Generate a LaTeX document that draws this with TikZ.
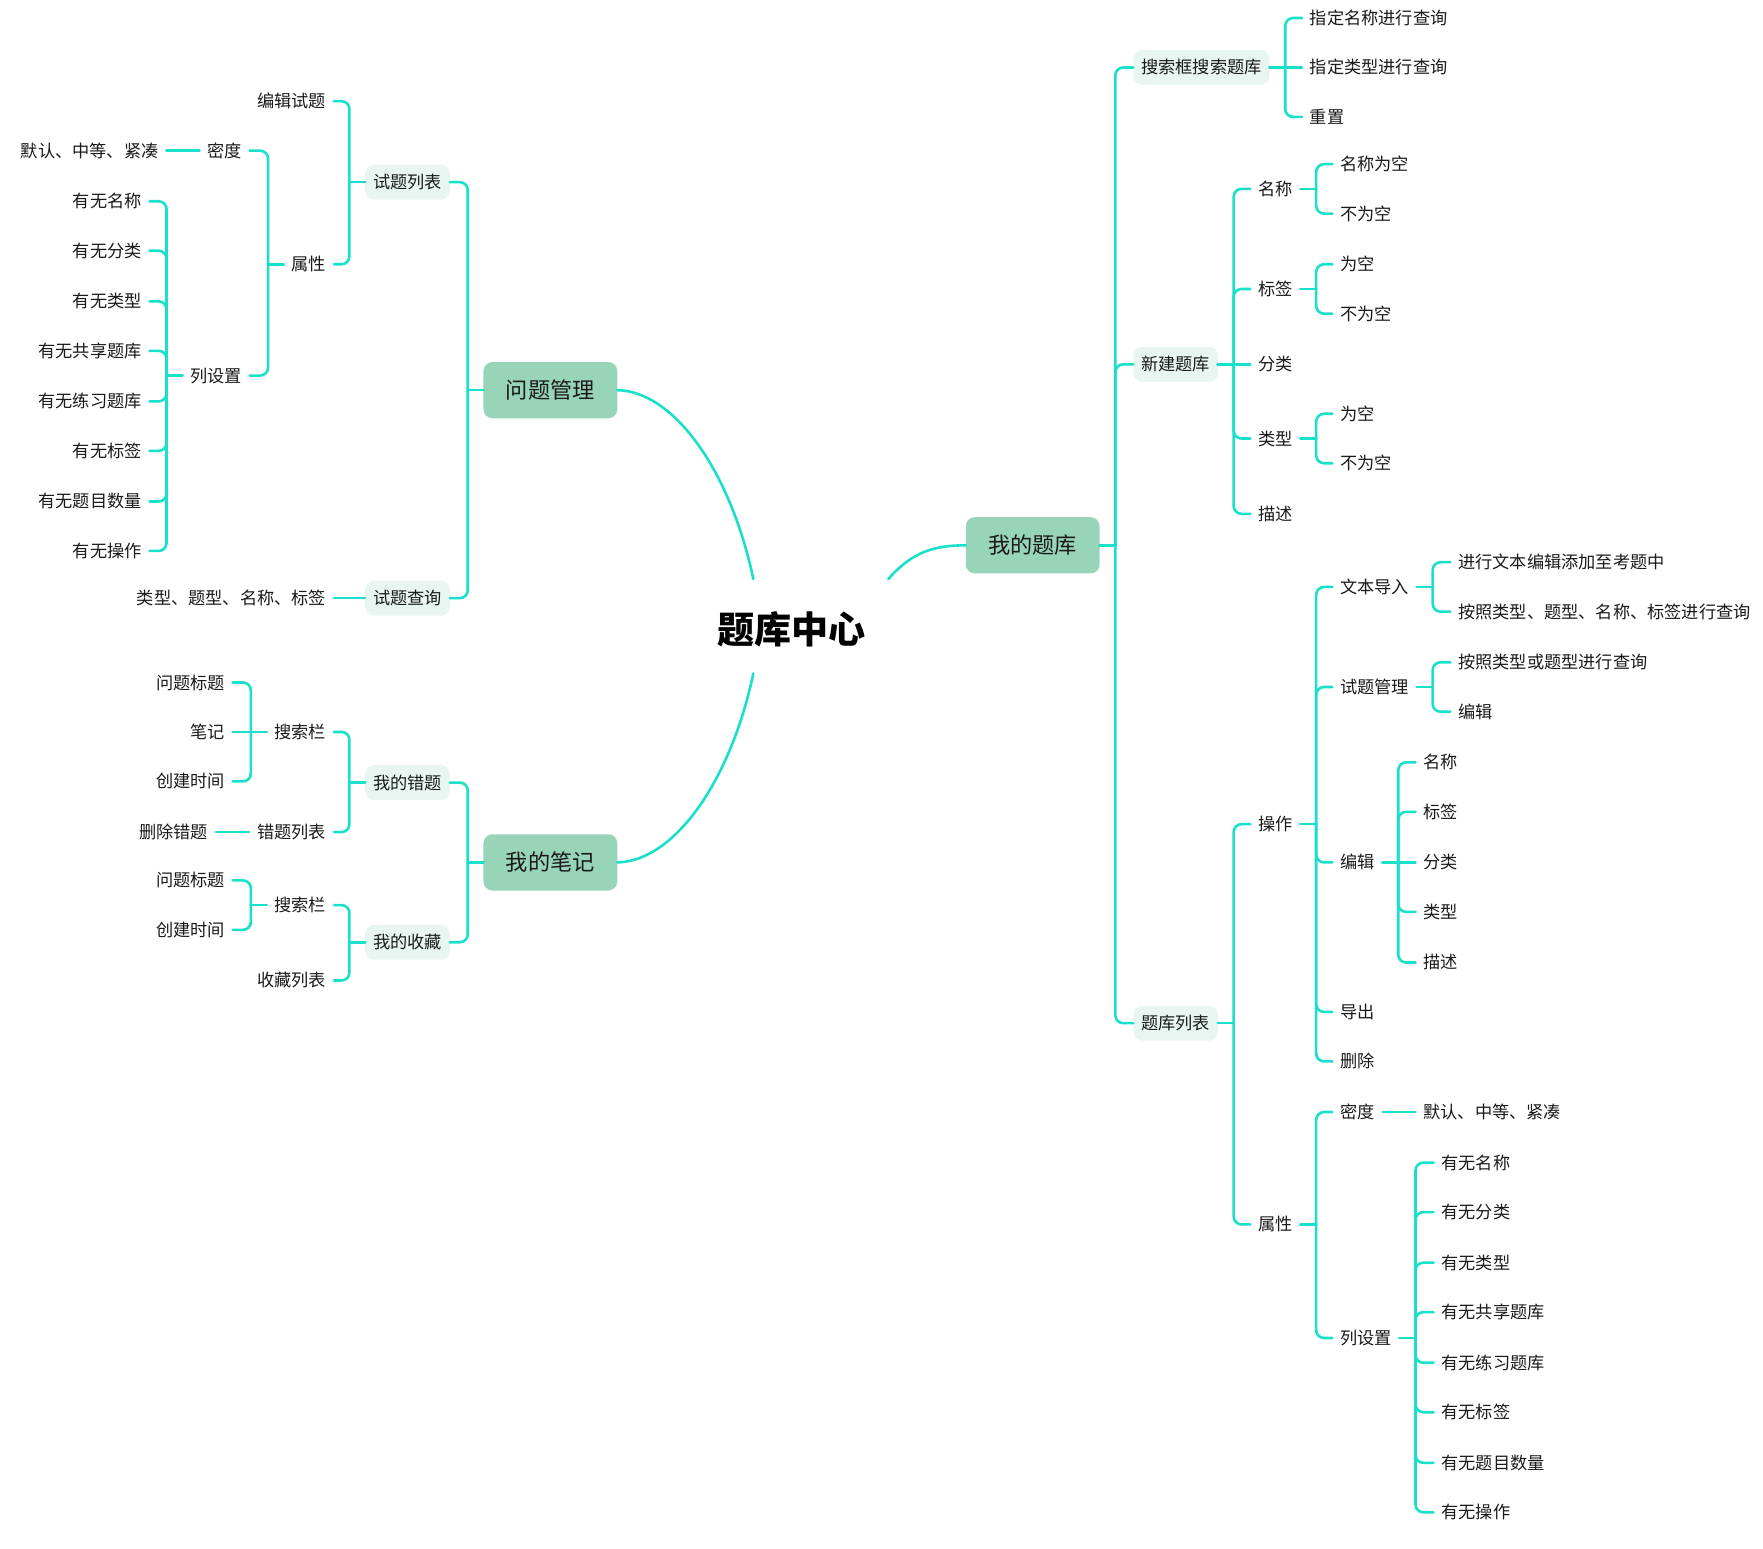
\documentclass[tikz,border=0pt]{standalone}
\usepackage{fontspec}
\setmainfont{Noto Sans CJK SC}
\usetikzlibrary{calc}
\definecolor{lineC}{HTML}{18E0CA}
\definecolor{mainC}{HTML}{98D4B8}
\definecolor{subC}{HTML}{E8F5F0}
\definecolor{txtC}{HTML}{1A1A1A}
\tikzset{
  conn/.style={draw=lineC, line width=2.3pt, line cap=round},
  base/.style={inner ysep=0pt, text height=13.2pt, text depth=1.6pt, text=txtC,
    font=\fontsize{15.3}{18}\selectfont},
  lt/.style={base, inner xsep=0pt, outer xsep=7pt, outer ysep=0pt, anchor=east},
  rt/.style={base, inner xsep=0pt, outer xsep=7pt, outer ysep=0pt, anchor=west},
  subbox/.style={base, fill=subC, rounded corners=8pt, inner xsep=7pt, minimum height=31pt, outer sep=0pt},
  mainbox/.style={fill=mainC, rounded corners=8pt, inner xsep=20pt, inner ysep=0pt, minimum height=50pt,
    outer sep=0pt, text height=17pt, text depth=2pt, text=txtC, font=\fontsize{19.75}{24}\selectfont},
  ctr/.style={inner sep=0pt, text height=28.5pt, text depth=3.5pt, text=black, font=\fontsize{33}{40}\bfseries}
}
\newcommand\brL[2]{\draw[conn] (#1.west) -- ++(-14,0);
  \draw[conn,rounded corners=7pt] ($(#1.west)+(-14,0)$) |- (#2.east);}
\newcommand\brR[2]{\draw[conn] (#1.east) -- ++(14,0);
  \draw[conn,rounded corners=7pt] ($(#1.east)+(14,0)$) |- (#2.west);}
\newcommand\lnL[2]{\draw[conn] (#1.west) -- (#2.east);}
\newcommand\lnR[2]{\draw[conn] (#1.east) -- (#2.west);}
\begin{document}
\begin{tikzpicture}[x=1pt,y=-1pt]
\useasboundingbox[fill=white] (0,0) rectangle (1568,1377);
% root and main topics
\node[ctr] (root) at (704,560) {题库中心};
\node[mainbox] (Q) at (489.5,347) {问题管理};
\node[mainbox] (N) at (489.5,767) {我的笔记};
\node[mainbox] (R) at (918.5,485) {我的题库};
\coordinate (cq) at (670,515);
\coordinate (cn) at (670,599);
\coordinate (cr) at (790,515);
\draw[conn] (Q.east) .. controls (600,348) and (650,420) .. (cq);
\draw[conn] (N.east) .. controls (600,766) and (650,694) .. (cn);
\draw[conn] (cr) .. controls (812,490) and (832,485) .. (R.west);

% ---- 问题管理
\node[subbox,anchor=east] (q1) at (400,162) {试题列表};
\node[subbox,anchor=east] (q2) at (400,532) {试题查询};
\node[lt] (q11) at (297,90) {编辑试题};
\node[lt] (q12) at (297,235) {属性};
\node[lt] (q121) at (222,134) {密度};
\node[lt] (q122) at (222,334) {列设置};
\node[lt] (q1211) at (148,134) {默认、中等、紧凑};
\node[lt] (qc1) at (133,179) {有无名称};
\node[lt] (qc2) at (133,223) {有无分类};
\node[lt] (qc3) at (133,268) {有无类型};
\node[lt] (qc4) at (133,312) {有无共享题库};
\node[lt] (qc5) at (133,357) {有无练习题库};
\node[lt] (qc6) at (133,401) {有无标签};
\node[lt] (qc7) at (133,446) {有无题目数量};
\node[lt] (qc8) at (133,490) {有无操作};
\node[lt] (q21) at (297,532) {类型、题型、名称、标签};
\brL{Q}{q1}\brL{Q}{q2}
\brL{q1}{q11}\brL{q1}{q12}
\brL{q12}{q121}\brL{q12}{q122}
\lnL{q121}{q1211}
\foreach \i in {1,...,8}{\brL{q122}{qc\i}}
\lnL{q2}{q21}

% ---- 我的笔记
\node[subbox,anchor=east] (n1) at (400,696) {我的错题};
\node[subbox,anchor=east] (n2) at (400,838) {我的收藏};
\node[lt] (n11) at (297,651) {搜索栏};
\node[lt] (n12) at (297,740) {错题列表};
\node[lt] (n111) at (207,607) {问题标题};
\node[lt] (n112) at (207,651) {笔记};
\node[lt] (n113) at (207,695) {创建时间};
\node[lt] (n121) at (192,740) {删除错题};
\node[lt] (n21) at (297,805) {搜索栏};
\node[lt] (n22) at (297,872) {收藏列表};
\node[lt] (n211) at (207,783) {问题标题};
\node[lt] (n212) at (207,827) {创建时间};
\brL{N}{n1}\brL{N}{n2}
\brL{n1}{n11}\brL{n1}{n12}
\brL{n11}{n111}\lnL{n11}{n112}\brL{n11}{n113}
\lnL{n12}{n121}
\brL{n2}{n21}\brL{n2}{n22}
\brL{n21}{n211}\brL{n21}{n212}

% ---- 我的题库
\node[subbox,anchor=west] (r1) at (1008,60) {搜索框搜索题库};
\node[subbox,anchor=west] (r2) at (1008,324) {新建题库};
\node[subbox,anchor=west] (r3) at (1008,910) {题库列表};
\brR{R}{r1}\brR{R}{r2}\brR{R}{r3}
% search
\node[rt] (r11) at (1158,16) {指定名称进行查询};
\node[rt] (r12) at (1158,60) {指定类型进行查询};
\node[rt] (r13) at (1158,104) {重置};
\brR{r1}{r11}\lnR{r1}{r12}\brR{r1}{r13}
% new
\node[rt] (r21) at (1112,168) {名称};
\node[rt] (r22) at (1112,257) {标签};
\node[rt] (r23) at (1112,324) {分类};
\node[rt] (r24) at (1112,390) {类型};
\node[rt] (r25) at (1112,457) {描述};
\brR{r2}{r21}\brR{r2}{r22}\lnR{r2}{r23}\brR{r2}{r24}\brR{r2}{r25}
\node[rt] (r211) at (1185,146) {名称为空};
\node[rt] (r212) at (1185,190) {不为空};
\node[rt] (r221) at (1185,235) {为空};
\node[rt] (r222) at (1185,279) {不为空};
\node[rt] (r241) at (1185,368) {为空};
\node[rt] (r242) at (1185,412) {不为空};
\brR{r21}{r211}\brR{r21}{r212}
\brR{r22}{r221}\brR{r22}{r222}
\brR{r24}{r241}\brR{r24}{r242}
% list
\node[rt] (r31) at (1112,733) {操作};
\node[rt] (r32) at (1112,1089) {属性};
\brR{r3}{r31}\brR{r3}{r32}
\node[rt] (r311) at (1185,522) {文本导入};
\node[rt] (r312) at (1185,611) {试题管理};
\node[rt] (r313) at (1185,767) {编辑};
\node[rt] (r314) at (1185,900) {导出};
\node[rt] (r315) at (1185,944) {删除};
\brR{r31}{r311}\brR{r31}{r312}\brR{r31}{r313}\brR{r31}{r314}\brR{r31}{r315}
\node[rt] (r3111) at (1290,500) {进行文本编辑添加至考题中};
\node[rt] (r3112) at (1290,544) {按照类型、题型、名称、标签进行查询};
\brR{r311}{r3111}\brR{r311}{r3112}
\node[rt] (r3121) at (1290,589) {按照类型或题型进行查询};
\node[rt] (r3122) at (1290,633) {编辑};
\brR{r312}{r3121}\brR{r312}{r3122}
\node[rt] (r3131) at (1259,678) {名称};
\node[rt] (r3132) at (1259,722) {标签};
\node[rt] (r3133) at (1259,767) {分类};
\node[rt] (r3134) at (1259,811) {类型};
\node[rt] (r3135) at (1259,856) {描述};
\brR{r313}{r3131}\brR{r313}{r3132}\lnR{r313}{r3133}\brR{r313}{r3134}\brR{r313}{r3135}
\node[rt] (r321) at (1185,989) {密度};
\node[rt] (r322) at (1185,1190) {列设置};
\brR{r32}{r321}\brR{r32}{r322}
\node[rt] (r3211) at (1259,989) {默认、中等、紧凑};
\lnR{r321}{r3211}
\node[rt] (rc1) at (1275,1034) {有无名称};
\node[rt] (rc2) at (1275,1078) {有无分类};
\node[rt] (rc3) at (1275,1123) {有无类型};
\node[rt] (rc4) at (1275,1167) {有无共享题库};
\node[rt] (rc5) at (1275,1212) {有无练习题库};
\node[rt] (rc6) at (1275,1256) {有无标签};
\node[rt] (rc7) at (1275,1301) {有无题目数量};
\node[rt] (rc8) at (1275,1345) {有无操作};
\foreach \i in {1,...,8}{\brR{r322}{rc\i}}
\end{tikzpicture}
\end{document}
